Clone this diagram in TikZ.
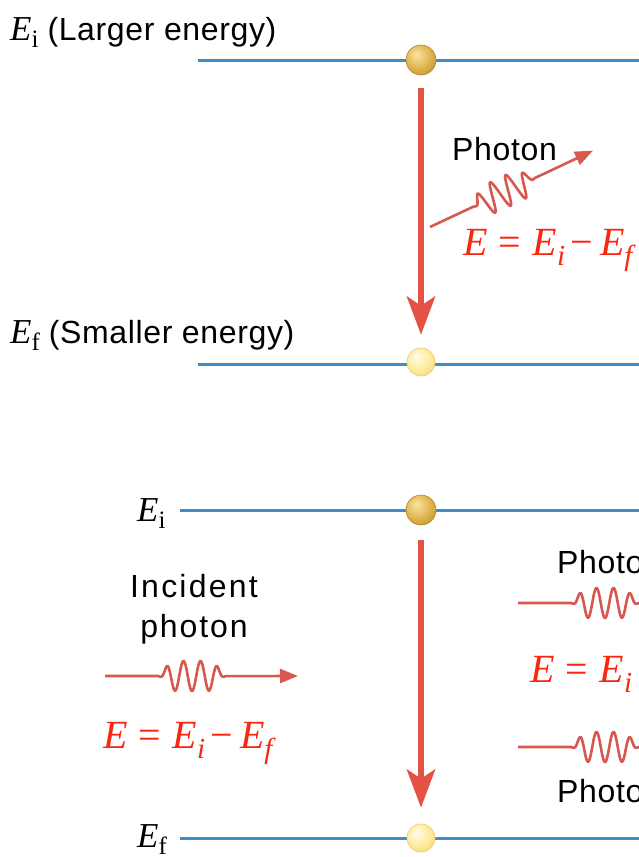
\documentclass[tikz,border=0pt]{standalone}
\usepackage{fontspec}
\setmainfont{Liberation Serif}
\newfontfamily\lsans[LetterSpace=2]{Liberation Sans}
\usetikzlibrary{arrows.meta}
\definecolor{levelblue}{RGB}{62,140,200}
\definecolor{arrowred}{RGB}{228,82,70}
\definecolor{photred}{RGB}{214,88,78}
\definecolor{eqred}{RGB}{250,38,15}
\definecolor{goldA}{RGB}{250,228,160}
\definecolor{goldB}{RGB}{222,178,74}
\definecolor{goldC}{RGB}{178,134,42}
\definecolor{paleA}{RGB}{255,252,232}
\definecolor{paleB}{RGB}{255,234,155}
\definecolor{paleC}{RGB}{238,200,105}
\pgfdeclareradialshading{goldball}{\pgfpoint{-8bp}{10bp}}{color(0bp)=(goldA);color(22bp)=(goldB);color(42bp)=(goldC);color(70bp)=(goldC)}
\pgfdeclareradialshading{paleball}{\pgfpoint{-8bp}{10bp}}{color(0bp)=(paleA);color(22bp)=(paleB);color(44bp)=(paleC);color(70bp)=(paleC)}
\newcommand\Elab[1]{\fontsize{35}{40}\selectfont\textit{E}\raisebox{-7pt}{\fontsize{25}{25}\selectfont #1}}
\newcommand\redeq{\fontsize{40}{44}\selectfont\textit{E}\hspace{0.28em}=\hspace{0.28em}\textit{E}\raisebox{-10pt}{\fontsize{29}{29}\selectfont\textit{i}}\hspace{0.14em}−\hspace{0.17em}\textit{E}\raisebox{-10pt}{\fontsize{29}{29}\selectfont\textit{f}}}
\tikzset{
  level/.style={levelblue, line width=3pt},
  bigarrow/.style={arrowred, line width=6.5pt, -{Stealth[length=38pt,width=28pt,inset=9pt]}},
  photon/.style={photred, line width=2.6pt, line join=round, -{Triangle[length=18pt,width=14pt]}},
  goldnode/.style={circle, minimum size=30pt, inner sep=0pt, draw=goldC, line width=0.6pt, shading=goldball},
  palenode/.style={circle, minimum size=28pt, inner sep=0pt, draw=paleC, line width=0.6pt, shading=paleball},
  sans/.style={inner sep=0pt, font=\lsans\fontsize{32}{36}\selectfont},
  eqtext/.style={inner sep=0pt, text=eqred, anchor=base west},
  wave/.style={samples=140, smooth, variable=\t},
}
\begin{document}
\begin{tikzpicture}[x=1pt,y=-1pt]
\useasboundingbox (0,0) rectangle (639,857);
\clip (0,0) rectangle (639,857);
\fill[white] (0,0) rectangle (639,857);

% ---------- top panel ----------
\coordinate (t1a) at (198,60);  \coordinate (t1b) at (650,60);
\coordinate (t2a) at (198,364); \coordinate (t2b) at (650,364);
\draw[level] (t1a) -- (t1b);
\draw[level] (t2a) -- (t2b);
\node[goldnode] (tb1) at (421,60) {};
\node[palenode] (tb2) at (421,362) {};
\draw[bigarrow] ([yshift=-13pt]tb1.south) -- ([yshift=13pt]tb2.north);

\node[anchor=base west, inner sep=0pt] (tlab1) at (10,40) {\Elab{i}\hspace{9pt}{\lsans\fontsize{32}{36}\selectfont (Larger energy)}};
\node[anchor=base west, inner sep=0pt] (tlab2) at (10,343) {\Elab{f}\hspace{9pt}{\lsans\fontsize{32}{36}\selectfont (Smaller energy)}};

\coordinate (tw) at (430,227);
\begin{scope}[shift={(tw)}, rotate=25.1]
  \draw[photon] (0,0) -- (48,0) -- plot[wave, domain=48:116] (\t,{15*exp(-(((\t-82)*(\t-82)/784)^4))*cos(360*(\t-82)/17)}) -- (180,0);
\end{scope}
\node[sans, anchor=base west] (tph) at (452,160) {Photon};
\node[eqtext] (teq) at (463,255) {\redeq};

% ---------- bottom panel ----------
\coordinate (b1a) at (180,510); \coordinate (b1b) at (650,510);
\coordinate (b2a) at (180,838); \coordinate (b2b) at (650,838);
\draw[level] (b1a) -- (b1b);
\draw[level] (b2a) -- (b2b);
\node[goldnode] (bb1) at (421,510) {};
\node[palenode] (bb2) at (421,838) {};
\draw[bigarrow] ([yshift=-15pt]bb1.south) -- ([yshift=16pt]bb2.north);

\node[anchor=base west, inner sep=0pt] (blab1) at (137,521) {\Elab{i}};
\node[anchor=base west, inner sep=0pt] (blab2) at (137,847) {\Elab{f}};

\node[sans, anchor=base] (inc1) at (194,597) {\addfontfeature{LetterSpace=7}Incident};
\node[sans, anchor=base] (inc2) at (194,637) {\addfontfeature{LetterSpace=6}photon};
\coordinate (iw) at (105,676);
\begin{scope}[shift={(iw)}]
  \draw[photon] (0,0) -- (53,0) -- plot[wave, domain=53:121] (\t,{15*exp(-(((\t-87)*(\t-87)/784)^4))*cos(360*(\t-87)/17)}) -- (193,0);
\end{scope}
\node[eqtext] (beq1) at (103,748) {\redeq};

\coordinate (rw1) at (518,603);
\begin{scope}[shift={(rw1)}]
  \draw[photon] (0,0) -- (53,0) -- plot[wave, domain=53:121] (\t,{15*exp(-(((\t-87)*(\t-87)/784)^4))*cos(360*(\t-87)/17)}) -- (200,0);
\end{scope}
\coordinate (rw2) at (518,747);
\begin{scope}[shift={(rw2)}]
  \draw[photon] (0,0) -- (53,0) -- plot[wave, domain=53:121] (\t,{15*exp(-(((\t-87)*(\t-87)/784)^4))*cos(360*(\t-87)/17)}) -- (200,0);
\end{scope}
\node[sans, anchor=base west] (rph1) at (557,573) {Photon};
\node[sans, anchor=base west] (rph2) at (557,802) {Photon};
\node[eqtext] (beq2) at (530,682) {\redeq};
\end{tikzpicture}
\end{document}
